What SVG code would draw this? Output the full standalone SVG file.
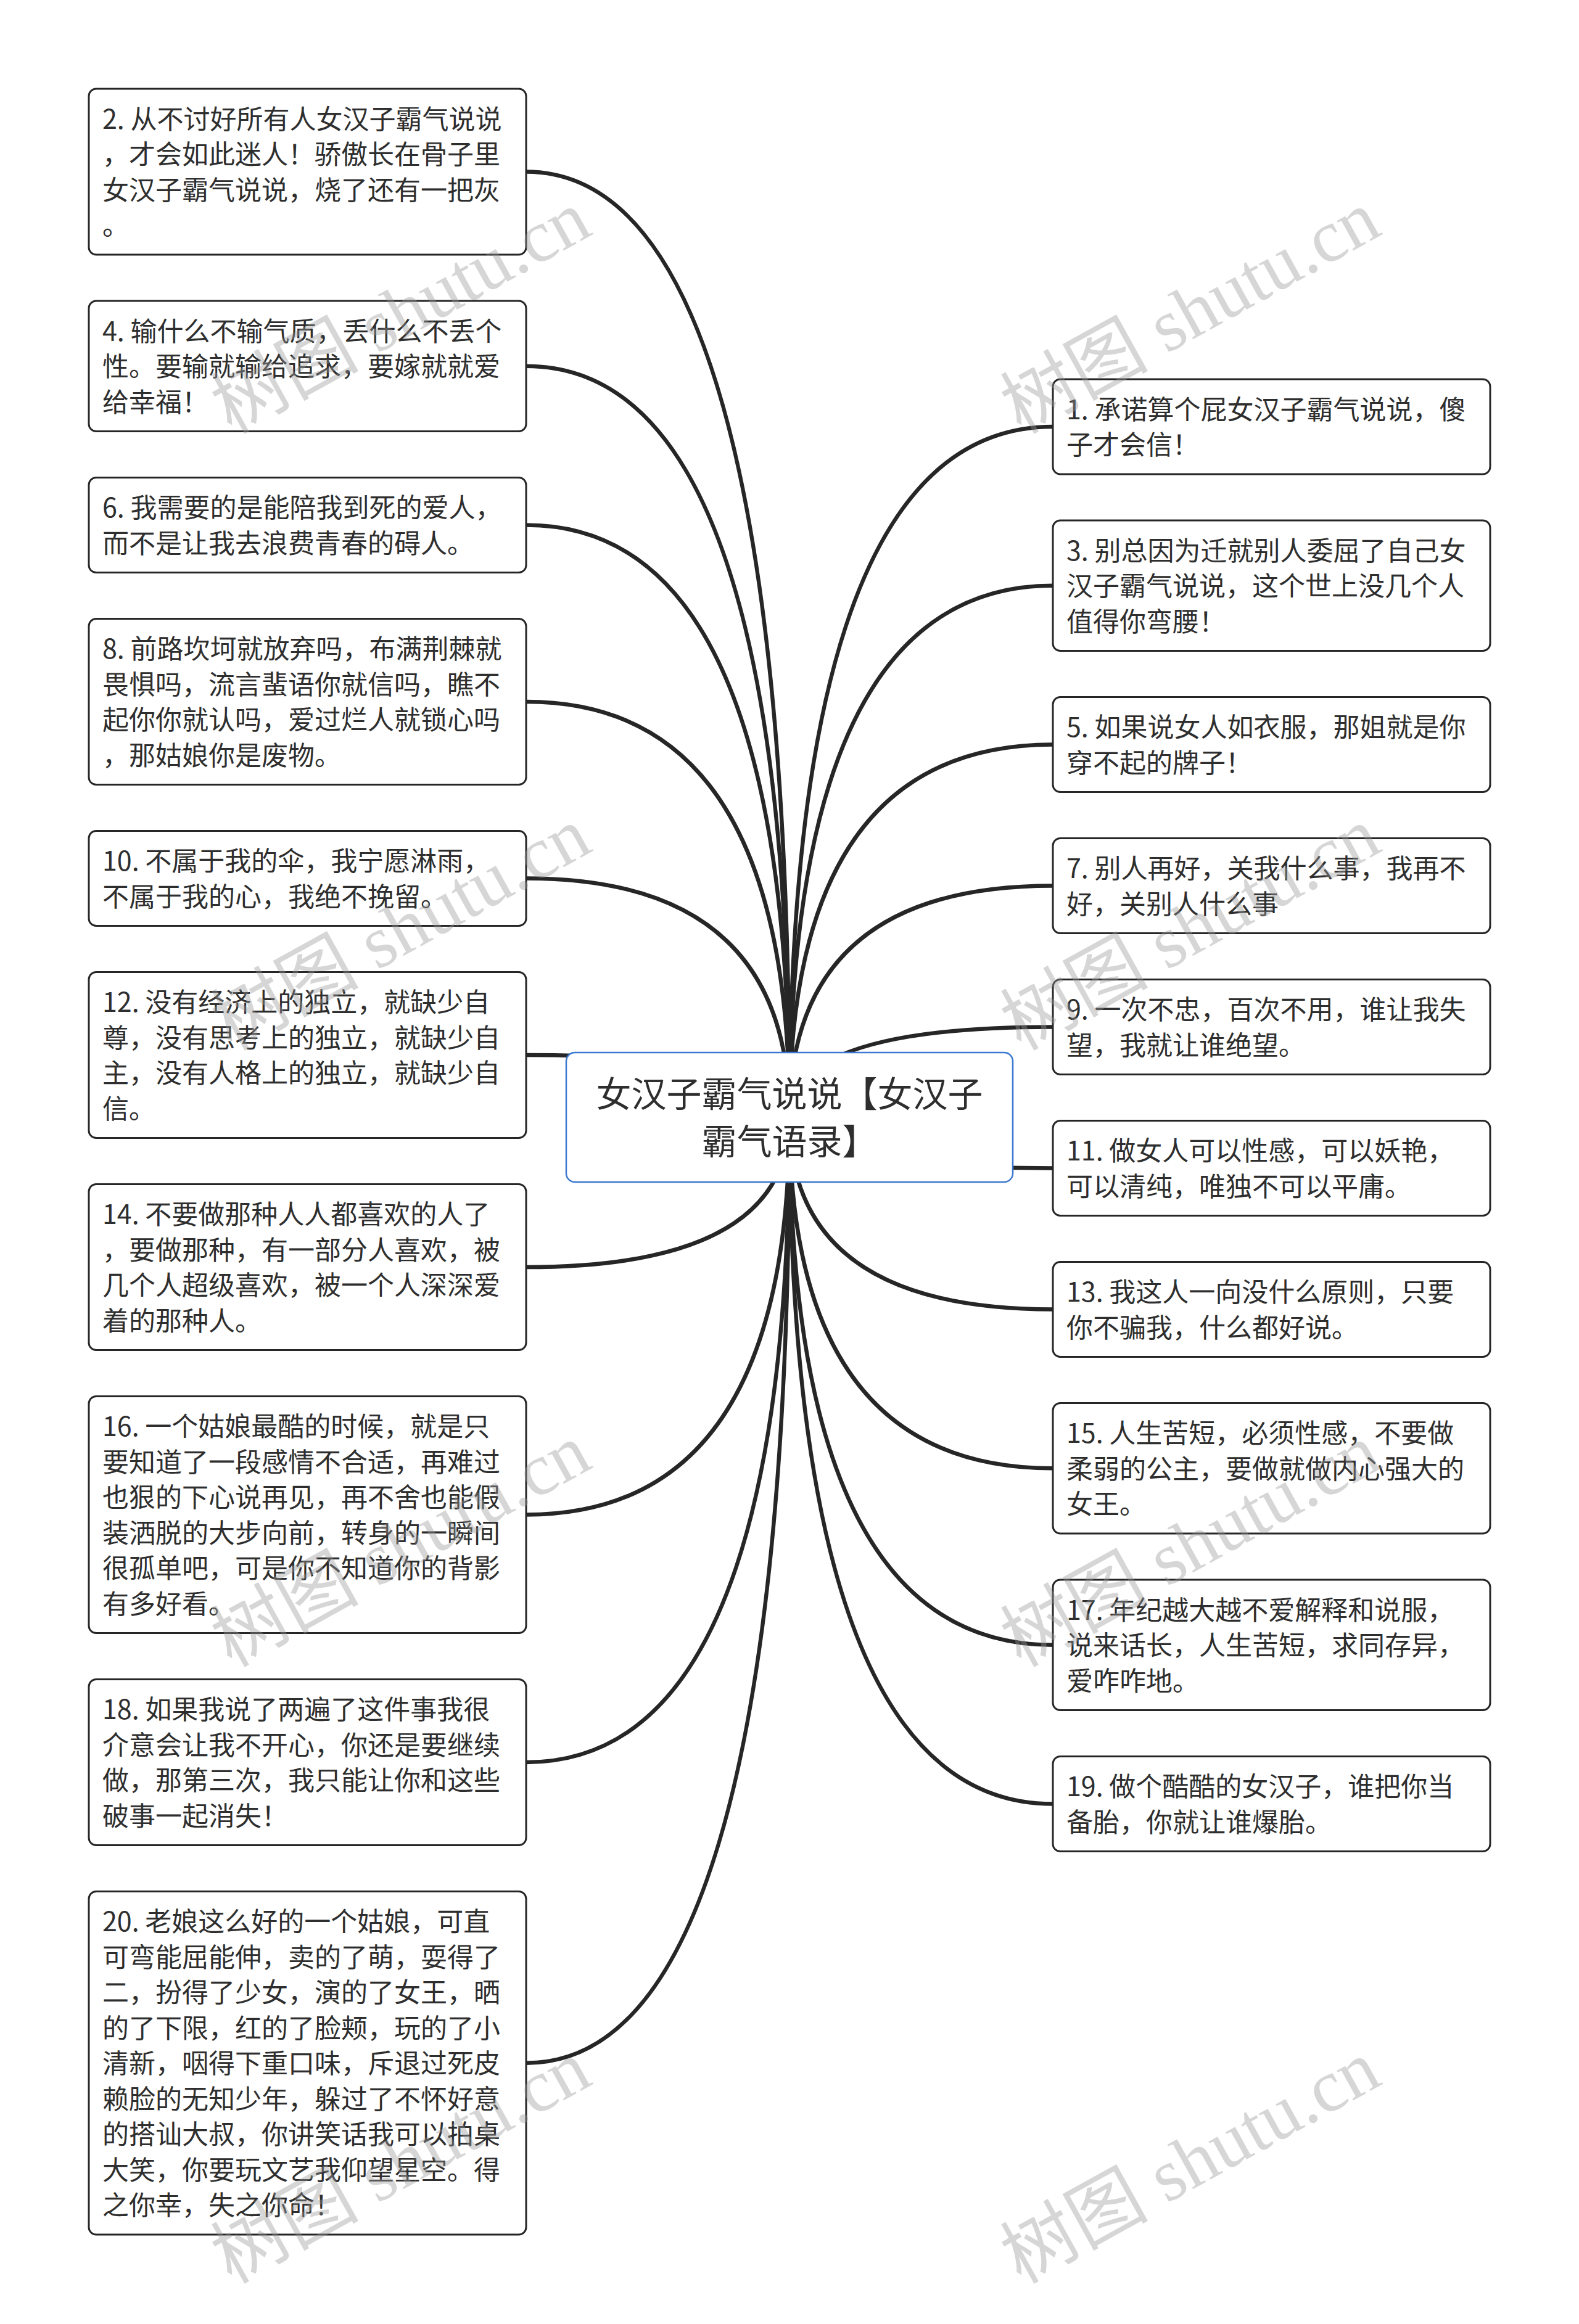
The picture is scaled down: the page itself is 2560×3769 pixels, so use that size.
<svg xmlns="http://www.w3.org/2000/svg" width="2560" height="3769" viewBox="0 0 2560 3769">
<style>
.bg{fill:#ffffff}
.box{fill:#ffffff;stroke:#262626;stroke-width:3}
.root{fill:#ffffff;stroke:#3b78cf;stroke-width:2.5}
.t{font-family:"Noto Sans CJK SC","Liberation Sans",sans-serif;font-size:43px;fill:#2e2e2e}
.rt{font-family:"Noto Sans CJK SC","Liberation Sans",sans-serif;font-size:57px;fill:#2e2e2e;text-anchor:middle}
.c{fill:none;stroke:#262626;stroke-width:6.5;stroke-linecap:round}
.wm{font-family:"Liberation Serif","Noto Sans CJK SC",serif;font-size:120px;fill:#999999;fill-opacity:0.4}
</style>
<rect class="bg" x="0" y="0" width="2560" height="3769"/>
<g id="connectors">
<path class="c" d="M1280 1812 Q1280 278.5 853 278.5"/>
<path class="c" d="M1280 1812 Q1280 593.75 853 593.75"/>
<path class="c" d="M1280 1812 Q1280 851.5 853 851.5"/>
<path class="c" d="M1280 1812 Q1280 1138 853 1138"/>
<path class="c" d="M1280 1812 Q1280 1424.5 853 1424.5"/>
<path class="c" d="M1280 1812 Q1280 1711 853 1711"/>
<path class="c" d="M1280 1812 Q1280 2055 853 2055"/>
<path class="c" d="M1280 1812 Q1280 2456.5 853 2456.5"/>
<path class="c" d="M1280 1812 Q1280 2858 853 2858"/>
<path class="c" d="M1280 1812 Q1280 3345.75 853 3345.75"/>
<path class="c" d="M1280 1812 Q1280 692 1707 692"/>
<path class="c" d="M1280 1812 Q1280 949.75 1707 949.75"/>
<path class="c" d="M1280 1812 Q1280 1207.5 1707 1207.5"/>
<path class="c" d="M1280 1812 Q1280 1436.5 1707 1436.5"/>
<path class="c" d="M1280 1812 Q1280 1665.5 1707 1665.5"/>
<path class="c" d="M1280 1812 Q1280 1894.5 1707 1894.5"/>
<path class="c" d="M1280 1812 Q1280 2123.5 1707 2123.5"/>
<path class="c" d="M1280 1812 Q1280 2381.25 1707 2381.25"/>
<path class="c" d="M1280 1812 Q1280 2667.75 1707 2667.75"/>
<path class="c" d="M1280 1812 Q1280 2925.5 1707 2925.5"/>
</g>
<g id="root">
<rect class="root" x="918" y="1707" width="724" height="210" rx="14"/>
<text class="rt" x="1280" y="1795">女汉子霸气说说【女汉子</text>
<text class="rt" x="1280" y="1872">霸气语录】</text>
</g>
<g id="n2">
<rect class="box" x="144" y="144" width="709" height="269" rx="12"/>
<text class="t" x="166" y="208.5">2. 从不讨好所有人女汉子霸气说说</text>
<text class="t" x="166" y="266">，才会如此迷人！骄傲长在骨子里</text>
<text class="t" x="166" y="323.5">女汉子霸气说说，烧了还有一把灰</text>
<text class="t" x="166" y="381">。</text>
</g>
<g id="n4">
<rect class="box" x="144" y="488" width="709" height="211.5" rx="12"/>
<text class="t" x="166" y="552.5">4. 输什么不输气质，丢什么不丢个</text>
<text class="t" x="166" y="610">性。要输就输给追求，要嫁就就爱</text>
<text class="t" x="166" y="667.5">给幸福！</text>
</g>
<g id="n6">
<rect class="box" x="144" y="774.5" width="709" height="154" rx="12"/>
<text class="t" x="166" y="839">6. 我需要的是能陪我到死的爱人，</text>
<text class="t" x="166" y="896.5">而不是让我去浪费青春的碍人。</text>
</g>
<g id="n8">
<rect class="box" x="144" y="1003.5" width="709" height="269" rx="12"/>
<text class="t" x="166" y="1068">8. 前路坎坷就放弃吗，布满荆棘就</text>
<text class="t" x="166" y="1125.5">畏惧吗，流言蜚语你就信吗，瞧不</text>
<text class="t" x="166" y="1183">起你你就认吗，爱过烂人就锁心吗</text>
<text class="t" x="166" y="1240.5">，那姑娘你是废物。</text>
</g>
<g id="n10">
<rect class="box" x="144" y="1347.5" width="709" height="154" rx="12"/>
<text class="t" x="166" y="1412">10. 不属于我的伞，我宁愿淋雨，</text>
<text class="t" x="166" y="1469.5">不属于我的心，我绝不挽留。</text>
</g>
<g id="n12">
<rect class="box" x="144" y="1576.5" width="709" height="269" rx="12"/>
<text class="t" x="166" y="1641">12. 没有经济上的独立，就缺少自</text>
<text class="t" x="166" y="1698.5">尊，没有思考上的独立，就缺少自</text>
<text class="t" x="166" y="1756">主，没有人格上的独立，就缺少自</text>
<text class="t" x="166" y="1813.5">信。</text>
</g>
<g id="n14">
<rect class="box" x="144" y="1920.5" width="709" height="269" rx="12"/>
<text class="t" x="166" y="1985">14. 不要做那种人人都喜欢的人了</text>
<text class="t" x="166" y="2042.5">，要做那种，有一部分人喜欢，被</text>
<text class="t" x="166" y="2100">几个人超级喜欢，被一个人深深爱</text>
<text class="t" x="166" y="2157.5">着的那种人。</text>
</g>
<g id="n16">
<rect class="box" x="144" y="2264.5" width="709" height="384" rx="12"/>
<text class="t" x="166" y="2329">16. 一个姑娘最酷的时候，就是只</text>
<text class="t" x="166" y="2386.5">要知道了一段感情不合适，再难过</text>
<text class="t" x="166" y="2444">也狠的下心说再见，再不舍也能假</text>
<text class="t" x="166" y="2501.5">装洒脱的大步向前，转身的一瞬间</text>
<text class="t" x="166" y="2559">很孤单吧，可是你不知道你的背影</text>
<text class="t" x="166" y="2616.5">有多好看。</text>
</g>
<g id="n18">
<rect class="box" x="144" y="2723.5" width="709" height="269" rx="12"/>
<text class="t" x="166" y="2788">18. 如果我说了两遍了这件事我很</text>
<text class="t" x="166" y="2845.5">介意会让我不开心，你还是要继续</text>
<text class="t" x="166" y="2903">做，那第三次，我只能让你和这些</text>
<text class="t" x="166" y="2960.5">破事一起消失！</text>
</g>
<g id="n20">
<rect class="box" x="144" y="3067.5" width="709" height="556.5" rx="12"/>
<text class="t" x="166" y="3132">20. 老娘这么好的一个姑娘，可直</text>
<text class="t" x="166" y="3189.5">可弯能屈能伸，卖的了萌，耍得了</text>
<text class="t" x="166" y="3247">二，扮得了少女，演的了女王，晒</text>
<text class="t" x="166" y="3304.5">的了下限，红的了脸颊，玩的了小</text>
<text class="t" x="166" y="3362">清新，咽得下重口味，斥退过死皮</text>
<text class="t" x="166" y="3419.5">赖脸的无知少年，躲过了不怀好意</text>
<text class="t" x="166" y="3477">的搭讪大叔，你讲笑话我可以拍桌</text>
<text class="t" x="166" y="3534.5">大笑，你要玩文艺我仰望星空。得</text>
<text class="t" x="166" y="3592">之你幸，失之你命！</text>
</g>
<g id="n1">
<rect class="box" x="1707" y="615" width="709" height="154" rx="12"/>
<text class="t" x="1729" y="679.5">1. 承诺算个屁女汉子霸气说说，傻</text>
<text class="t" x="1729" y="737">子才会信！</text>
</g>
<g id="n3">
<rect class="box" x="1707" y="844" width="709" height="211.5" rx="12"/>
<text class="t" x="1729" y="908.5">3. 别总因为迁就别人委屈了自己女</text>
<text class="t" x="1729" y="966">汉子霸气说说，这个世上没几个人</text>
<text class="t" x="1729" y="1023.5">值得你弯腰！</text>
</g>
<g id="n5">
<rect class="box" x="1707" y="1130.5" width="709" height="154" rx="12"/>
<text class="t" x="1729" y="1195">5. 如果说女人如衣服，那姐就是你</text>
<text class="t" x="1729" y="1252.5">穿不起的牌子！</text>
</g>
<g id="n7">
<rect class="box" x="1707" y="1359.5" width="709" height="154" rx="12"/>
<text class="t" x="1729" y="1424">7. 别人再好，关我什么事，我再不</text>
<text class="t" x="1729" y="1481.5">好，关别人什么事</text>
</g>
<g id="n9">
<rect class="box" x="1707" y="1588.5" width="709" height="154" rx="12"/>
<text class="t" x="1729" y="1653">9. 一次不忠，百次不用，谁让我失</text>
<text class="t" x="1729" y="1710.5">望，我就让谁绝望。</text>
</g>
<g id="n11">
<rect class="box" x="1707" y="1817.5" width="709" height="154" rx="12"/>
<text class="t" x="1729" y="1882">11. 做女人可以性感，可以妖艳，</text>
<text class="t" x="1729" y="1939.5">可以清纯，唯独不可以平庸。</text>
</g>
<g id="n13">
<rect class="box" x="1707" y="2046.5" width="709" height="154" rx="12"/>
<text class="t" x="1729" y="2111">13. 我这人一向没什么原则，只要</text>
<text class="t" x="1729" y="2168.5">你不骗我，什么都好说。</text>
</g>
<g id="n15">
<rect class="box" x="1707" y="2275.5" width="709" height="211.5" rx="12"/>
<text class="t" x="1729" y="2340">15. 人生苦短，必须性感，不要做</text>
<text class="t" x="1729" y="2397.5">柔弱的公主，要做就做内心强大的</text>
<text class="t" x="1729" y="2455">女王。</text>
</g>
<g id="n17">
<rect class="box" x="1707" y="2562" width="709" height="211.5" rx="12"/>
<text class="t" x="1729" y="2626.5">17. 年纪越大越不爱解释和说服，</text>
<text class="t" x="1729" y="2684">说来话长，人生苦短，求同存异，</text>
<text class="t" x="1729" y="2741.5">爱咋咋地。</text>
</g>
<g id="n19">
<rect class="box" x="1707" y="2848.5" width="709" height="154" rx="12"/>
<text class="t" x="1729" y="2913">19. 做个酷酷的女汉子，谁把你当</text>
<text class="t" x="1729" y="2970.5">备胎，你就让谁爆胎。</text>
</g>
<g id="watermarks">
<text class="wm" transform="translate(375,705) rotate(-29)">树图 shutu.cn</text>
<text class="wm" transform="translate(1655,705) rotate(-29)">树图 shutu.cn</text>
<text class="wm" transform="translate(375,1705) rotate(-29)">树图 shutu.cn</text>
<text class="wm" transform="translate(1655,1705) rotate(-29)">树图 shutu.cn</text>
<text class="wm" transform="translate(375,2705) rotate(-29)">树图 shutu.cn</text>
<text class="wm" transform="translate(1655,2705) rotate(-29)">树图 shutu.cn</text>
<text class="wm" transform="translate(375,3705) rotate(-29)">树图 shutu.cn</text>
<text class="wm" transform="translate(1655,3705) rotate(-29)">树图 shutu.cn</text>
</g>
</svg>
